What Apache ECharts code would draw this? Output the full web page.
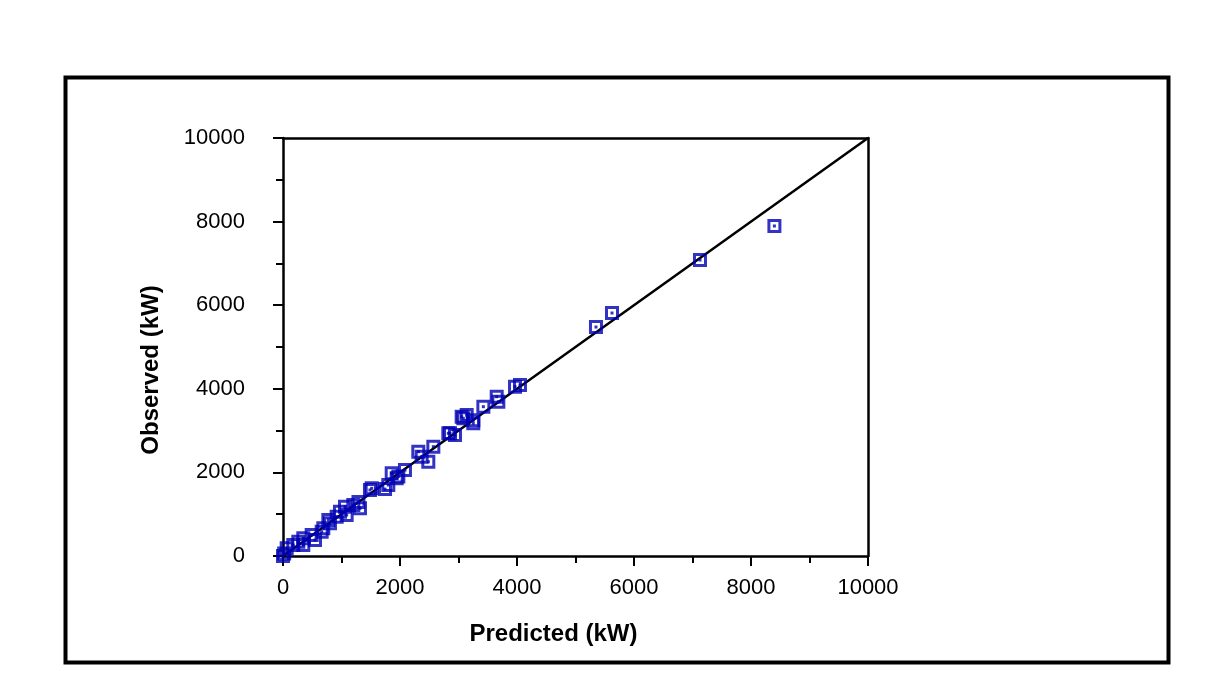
<!DOCTYPE html>
<html>
<head>
<meta charset="utf-8">
<script src="https://cdn.jsdelivr.net/npm/echarts@6/dist/echarts.min.js"></script>
<style>html,body{margin:0;padding:0;background:#fff;}#c{width:1225px;height:698px;}</style>
</head>
<body>
<div id="c"></div>
<script>
const predicted = [0, 20, 63, 176, 262, 347, 347, 490, 547, 661, 689, 775, 803, 918, 974, 1060, 1088, 1202, 1316, 1290, 1487, 1516, 1744, 1800, 1858, 1943, 1972, 2085, 2313, 2370, 2484, 2570, 2826, 2855, 2940, 3054, 3082, 3140, 3253, 3253, 3425, 3653, 3681, 3966, 4051, 5350, 5624, 7128, 8400];
const observed  = [0, 60, 184, 263, 342, 423, 263, 502, 383, 582, 662, 861, 781, 941, 1060, 1180, 981, 1220, 1141, 1290, 1579, 1619, 1600, 1699, 1978, 1859, 1900, 2057, 2495, 2375, 2255, 2615, 2935, 2935, 2895, 3333, 3294, 3373, 3174, 3250, 3572, 3811, 3692, 4051, 4090, 5478, 5813, 7081, 7895];
const lineX = [0, 10000];
const lineY = [0, 10000];
const xTicks = [0, 2000, 4000, 6000, 8000, 10000];

const pts = predicted.map((p, i) => [p, observed[i]]);
const chart = echarts.init(document.getElementById('c'), null, {renderer: 'canvas'});
const font = 'Liberation Sans, Arial, sans-serif';
const blue = '#0000b4';
const fmt = v => String(v);
chart.setOption({
  animation: false,
  backgroundColor: '#fff',
  graphic: [{
    type: 'rect', left: 63, top: 75, shape: {width: 1103, height: 585},
    style: {fill: 'none', stroke: '#000', lineWidth: 4}, silent: true
  }],
  grid: {left: 283, top: 138, width: 585, height: 418, show: false},
  xAxis: [{
    type: 'value', min: xTicks[0], max: xTicks[xTicks.length - 1], interval: 2000,
    name: 'Predicted (kW)', nameLocation: 'middle', nameGap: 66,
    nameTextStyle: {fontFamily: font, fontSize: 24, fontWeight: 'bold', color: '#000', padding: [0, 44, 0, 0]},
    axisLine: {show: true, onZero: false, lineStyle: {color: '#000', width: 2.5}},
    axisTick: {show: true, inside: false, length: 10, lineStyle: {color: '#000', width: 2}},
    minorTick: {show: true, splitNumber: 2, length: 7, lineStyle: {color: '#000', width: 2}},
    splitLine: {show: false},
    axisLabel: {fontFamily: font, fontSize: 22, color: '#000', margin: 21, formatter: fmt}
  }, {
    type: 'value', position: 'top', min: 0, max: 10000,
    axisLine: {show: true, onZero: false, lineStyle: {color: '#000', width: 2.5}},
    axisTick: {show: false}, axisLabel: {show: false}, splitLine: {show: false}
  }],
  yAxis: [{
    type: 'value', min: 0, max: 10000, interval: 2000,
    name: 'Observed (kW)', nameLocation: 'middle', nameGap: 120, nameRotate: 90,
    nameTextStyle: {fontFamily: font, fontSize: 24, fontWeight: 'bold', color: '#000', padding: [0, 46, 0, 0]},
    axisLine: {show: true, onZero: false, lineStyle: {color: '#000', width: 2.5}},
    axisTick: {show: true, inside: false, length: 10, lineStyle: {color: '#000', width: 2}},
    minorTick: {show: true, splitNumber: 2, length: 7, lineStyle: {color: '#000', width: 2}},
    splitLine: {show: false},
    axisLabel: {fontFamily: font, fontSize: 22, color: '#000', margin: 38, formatter: fmt}
  }, {
    type: 'value', position: 'right', min: 0, max: 10000,
    axisLine: {show: true, onZero: false, lineStyle: {color: '#000', width: 2.5}},
    axisTick: {show: false}, axisLabel: {show: false}, splitLine: {show: false}
  }],
  series: [
    {
      type: 'line', data: lineX.map((x, i) => [x, lineY[i]]), symbol: 'none',
      lineStyle: {color: '#000', width: 2.5}, z: 3, silent: true
    },
    {
      type: 'scatter', data: pts, symbol: 'rect', symbolSize: 11,
      itemStyle: {color: 'rgba(0,0,0,0)', borderColor: blue, borderWidth: 3}, z: 4
    },
    {
      type: 'scatter', data: pts, symbol: 'rect', symbolSize: 3,
      itemStyle: {color: blue}, z: 5
    }
  ]
});
</script>
</body>
</html>
